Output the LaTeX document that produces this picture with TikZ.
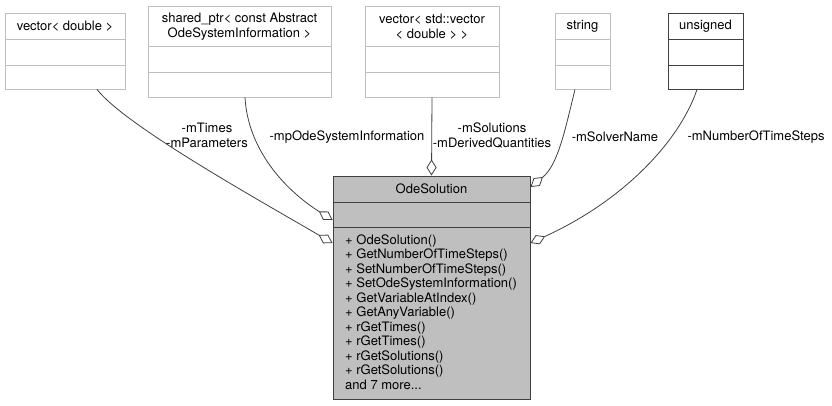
\documentclass[tikz,border=0pt]{standalone}
\usepackage{fontspec}
\setmainfont{TeX Gyre Heros}
\usetikzlibrary{arrows.meta}
\definecolor{edgec}{HTML}{404040}
\definecolor{lightb}{HTML}{BFBFBF}
\definecolor{odefill}{HTML}{BFBFBF}
\begin{document}
\begin{tikzpicture}[x=1pt,y=-1pt,
  every node/.style={font=\fontsize{13}{14.5}\selectfont, inner sep=0pt},
  cls/.style={draw=lightb, line width=0.9pt, fill=white, inner sep=0pt},
  clsdark/.style={draw=edgec, line width=0.9pt, fill=white, inner sep=0pt},
  odebox/.style={draw=edgec, line width=1pt, fill=odefill, inner sep=0pt},
  hdr/.style={align=center},
  lbl/.style={align=center, text=black},
  divl/.style={draw=lightb, line width=0.9pt},
  divd/.style={draw=edgec, line width=0.9pt},
  divo/.style={draw=edgec, line width=1pt},
  agg/.style={draw=edgec, line width=0.8pt, -{Diamond[open, length=16pt, width=10pt, fill=white]}},
]
\useasboundingbox (0,0) rectangle (832,405);

% class boxes
\node[cls, minimum width=120pt, minimum height=76pt] (v1) at (65,51) {};
\draw[divl] (v1.west |- 0,39) -- (v1.east |- 0,39);
\draw[divl] (v1.west |- 0,65) -- (v1.east |- 0,65);
\node[hdr] (v1t) at (65,26) {vector< double >};

\node[cls, minimum width=183pt, minimum height=91pt] (sp) at (239.5,51.5) {};
\draw[divl] (sp.west |- 0,46) -- (sp.east |- 0,46);
\draw[divl] (sp.west |- 0,72) -- (sp.east |- 0,72);
\node[hdr] (spt) at (239.5,26.5) {shared\_ptr< const Abstract\\OdeSystemInformation >};

\node[cls, minimum width=134pt, minimum height=91pt] (vv) at (432,51.5) {};
\draw[divl] (vv.west |- 0,46) -- (vv.east |- 0,46);
\draw[divl] (vv.west |- 0,72) -- (vv.east |- 0,72);
\node[hdr] (vvt) at (432,26.5) {vector< std::vector\\< double > >};

\node[cls, minimum width=55pt, minimum height=76pt] (st) at (582.5,51) {};
\draw[divl] (st.west |- 0,39) -- (st.east |- 0,39);
\draw[divl] (st.west |- 0,65) -- (st.east |- 0,65);
\node[hdr] (stt) at (582.5,26) {string};

\node[clsdark, minimum width=75pt, minimum height=76pt] (un) at (705.5,51) {};
\draw[divd] (un.west |- 0,39) -- (un.east |- 0,39);
\draw[divd] (un.west |- 0,65) -- (un.east |- 0,65);
\node[hdr] (unt) at (705.5,26) {unsigned};

% main class
\node[odebox, minimum width=197pt, minimum height=223pt] (ode) at (431.5,287.5) {};
\draw[divo] (ode.west |- 0,202) -- (ode.east |- 0,202);
\draw[divo] (ode.west |- 0,227) -- (ode.east |- 0,227);
\node[hdr] (odet) at (431.5,189) {OdeSolution};
\node[align=left, anchor=north west] (odem) at (345,234.5) {+ OdeSolution()\\
+ GetNumberOfTimeSteps()\\
+ SetNumberOfTimeSteps()\\
+ SetOdeSystemInformation()\\
+ GetVariableAtIndex()\\
+ GetAnyVariable()\\
+ rGetTimes()\\
+ rGetTimes()\\
+ rGetSolutions()\\
+ rGetSolutions()\\
and 7 more...};

% connector end points
\coordinate (s1) at ([xshift=32pt]v1.south);
\coordinate (s2) at ([xshift=5.5pt]sp.south);
\coordinate (s4) at ([xshift=-7.5pt]st.south);
\coordinate (s5) at ([xshift=-8.5pt]un.south);
\coordinate (e1) at ([yshift=44.5pt]ode.west);
\coordinate (e2) at ([yshift=67.5pt]ode.west);
\coordinate (e4) at ([yshift=100.5pt]ode.east);
\coordinate (e5) at ([yshift=44.5pt]ode.east);

% connectors
\draw[agg] (s1) .. controls (125,125) and (250,195) .. (e1);
\draw[agg] (s2) .. controls (248,150) and (285,190) .. (e2);
\draw[agg] (vv.south) -- (ode.north);
\draw[agg] (s4) .. controls (565,130) and (558,165) .. (e4);
\draw[agg] (s5) .. controls (680,140) and (625,200) .. (e5);

% labels
\node[lbl] (l1) at (207,135.5) {-mTimes\\-mParameters};
\node[lbl] (l2) at (347,137) {-mpOdeSystemInformation};
\node[lbl] (l3) at (492,135.5) {-mSolutions\\-mDerivedQuantities};
\node[lbl] (l4) at (615,137) {-mSolverName};
\node[lbl] (l5) at (756,137) {-mNumberOfTimeSteps};
\end{tikzpicture}
\end{document}
